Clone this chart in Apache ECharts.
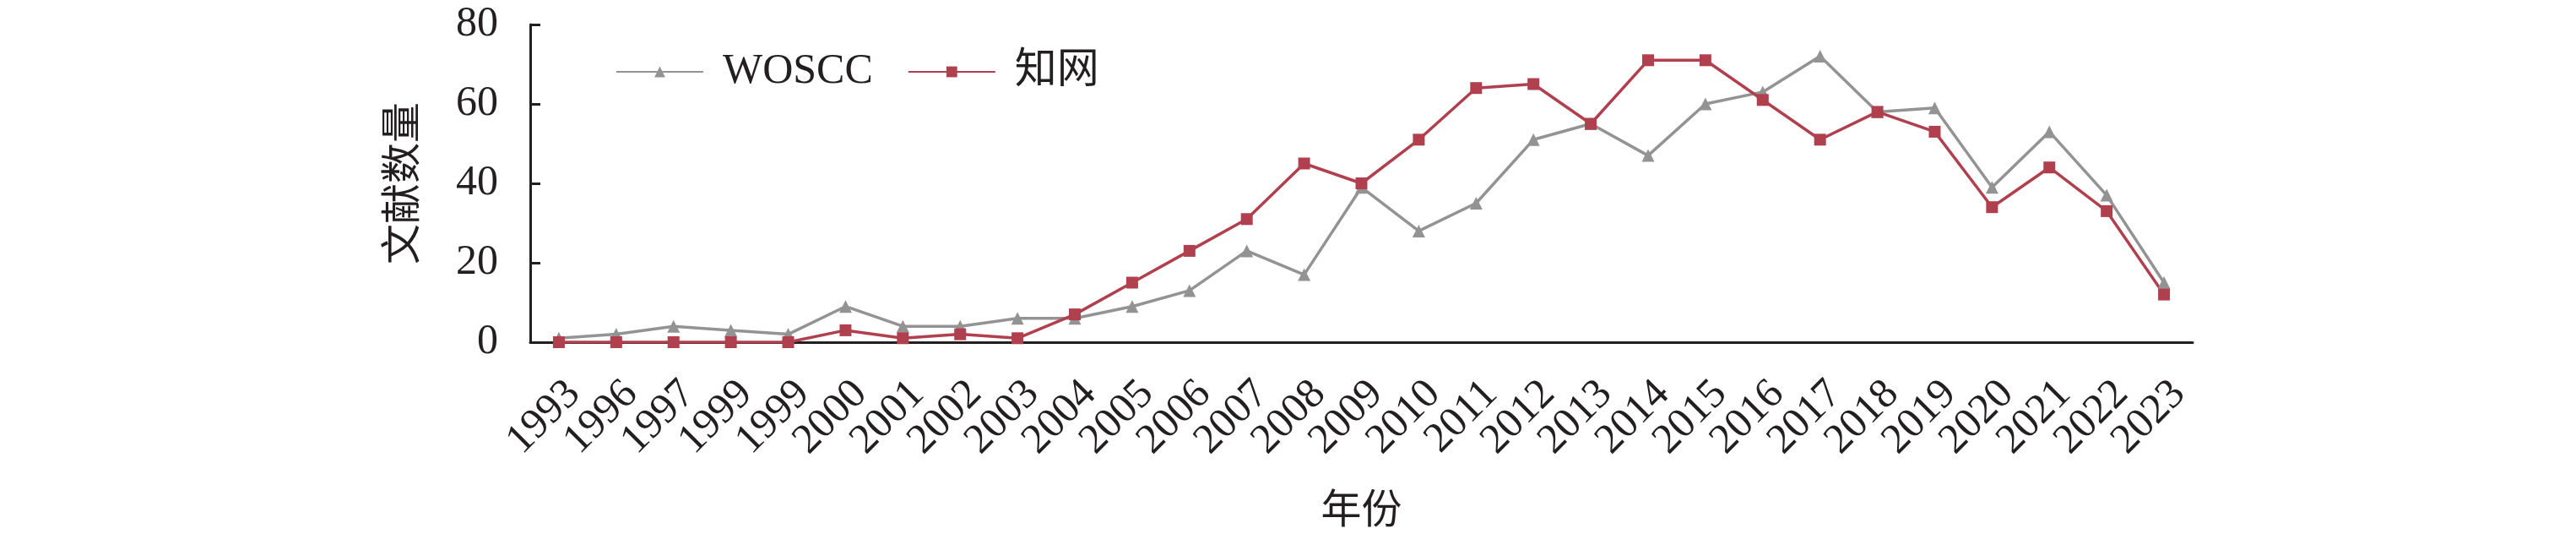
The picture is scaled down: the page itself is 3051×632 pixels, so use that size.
<!DOCTYPE html>
<html>
<head>
<meta charset="utf-8">
<script src="https://cdn.jsdelivr.net/npm/echarts@6/dist/echarts.min.js"></script>
<style>
html,body{margin:0;padding:0;background:#fff;}
#chart{width:3051px;height:632px;}
</style>
</head>
<body>
<div id="chart"></div>
<script>
const years = ['1993','1996','1997','1999','1999','2000','2001','2002','2003','2004','2005','2006','2007','2008','2009','2010','2011','2012','2013','2014','2015','2016','2017','2018','2019','2020','2021','2022','2023'];
const woscc = [1,2,4,3,2,9,4,4,6,6,9,13,23,17,39,28,35,51,55,47,60,63,72,58,59,39,53,37,15];
const cnki  = [0,0,0,0,0,3,1,2,1,7,15,23,31,45,40,51,64,65,55,71,71,61,51,58,53,34,44,33,12];
const yTicks = [0,20,40,60,80];

const serif = '"Liberation Serif", "Times New Roman", "Noto Sans CJK SC", serif';
const axisColor = '#231f20';
const chart = echarts.init(document.getElementById('chart'), null, {renderer:'canvas'});
chart.setOption({
  animation: false,
  backgroundColor: '#ffffff',
  textStyle: {fontFamily: serif, color: axisColor},
  grid: {left: 628, right: 454, top: 29, bottom: 227, containLabel: false},
  legend: {
    left: 724, top: 55,
    itemWidth: 103, itemHeight: 16, itemGap: 41,
    textStyle: {fontFamily: serif, fontSize: 50, color: axisColor, padding: [0,0,0,18]},
    data: ['WOSCC','知网']
  },
  xAxis: {
    type: 'category',
    data: years,
    boundaryGap: true,
    name: '年份',
    nameLocation: 'middle',
    nameGap: 172,
    nameTextStyle: {fontFamily: '"Noto Sans CJK SC", serif', fontSize: 48, color: axisColor},
    axisLine: {lineStyle: {color: axisColor, width: 3}},
    axisTick: {inside: true, length: 12, lineStyle: {color: axisColor, width: 3}},
    axisLabel: {
      rotate: 45, interval: 0, margin: 36, verticalAlign: 'top',
      fontFamily: serif, fontSize: 50, color: axisColor
    },
    splitLine: {show: false}
  },
  yAxis: {
    type: 'value',
    min: yTicks[0], max: yTicks[yTicks.length-1], interval: 20,
    name: '文献数量',
    nameLocation: 'middle',
    nameRotate: 90,
    nameGap: 130,
    nameTextStyle: {fontFamily: '"Noto Sans CJK SC", serif', fontSize: 48, color: axisColor},
    axisLine: {show: true, lineStyle: {color: axisColor, width: 3}},
    axisTick: {show: true, inside: true, length: 12, lineStyle: {color: axisColor, width: 3}},
    axisLabel: {margin: 38, fontFamily: serif, fontSize: 50, color: axisColor},
    splitLine: {show: false}
  },
  series: [
    {
      name: 'WOSCC', type: 'line', data: woscc,
      symbol: 'triangle', symbolSize: 15,
      lineStyle: {color: '#939393', width: 3.5},
      itemStyle: {color: '#939393'}
    },
    {
      name: '知网', type: 'line', data: cnki,
      symbol: 'rect', symbolSize: 14,
      lineStyle: {color: '#b1404f', width: 3.5},
      itemStyle: {color: '#b1404f'}
    }
  ]
});
</script>
</body>
</html>
